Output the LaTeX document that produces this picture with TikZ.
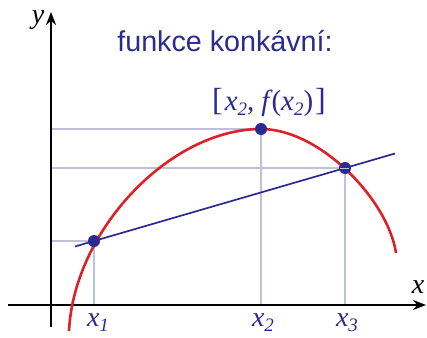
\documentclass[tikz,border=0pt]{standalone}
\usepackage{fontspec}
\newfontfamily\sansf{Liberation Sans}
\newfontfamily\seriff{Liberation Serif}
\usetikzlibrary{arrows.meta}
\definecolor{navy}{RGB}{42,42,145}
\definecolor{curvered}{RGB}{222,32,40}
\definecolor{gridc}{RGB}{190,192,222}
\newcommand{\sbx}[1]{\raisebox{-5pt}{\fontsize{19}{20}\selectfont #1}}
\newcommand{\up}[1]{{\upshape #1}}
\begin{document}
\begin{tikzpicture}[x=1pt,y=-1pt,
  axis/.style={line width=1.8pt,-{Stealth[length=13pt,width=10pt]}},
  gridl/.style={gridc,line width=1.1pt},
  dot/.style={circle,fill=navy,inner sep=0pt,minimum size=12pt},
  mlab/.style={font=\seriff\itshape\fontsize{28}{30}\selectfont,text=navy,inner sep=0pt},
  alab/.style={font=\seriff\itshape\fontsize{28}{30}\selectfont,text=black,inner sep=0pt}]
\useasboundingbox (0,0) rectangle (427,337);
\coordinate (O) at (51,305);
\coordinate (ybot) at (51,327);
\coordinate (ytop) at (51,12);
\coordinate (xl) at (8,305);
\coordinate (xr) at (426,305);
\coordinate (p1) at (94,241);
\coordinate (p2) at (261,129);
\coordinate (p3) at (345,168);
\coordinate (la) at (75,246.5);
\coordinate (lb) at (395,153.5);
\coordinate (cs) at (69,331);
\coordinate (ce) at (396,253);
% grid lines
\draw[gridl] (p1 -| O) -- (p1) -- (p1 |- O);
\draw[gridl] (p2 -| O) -- (p2) -- (p2 |- O);
\draw[gridl] (p3 -| O) -- (p3) -- (p3 |- O);
% axes
\draw[axis] (ybot) -- (ytop);
\draw[axis] (xl) -- (xr);
% curve
\draw[curvered,line width=2.6pt] (cs) .. controls (74,230) and (170,129) .. (p2)
  .. controls (320,129) and (388,200) .. (ce);
% secant
\draw[navy,line width=1.7pt] (la) -- (lb);
% dots
\node[dot] (d1) at (p1) {};
\node[dot] (d2) at (p2) {};
\node[dot] (d3) at (p3) {};
\draw[gridl,line width=0.8pt] ([xshift=-5pt]p3) -- ([xshift=4pt]p3);
% labels
\node[font=\sansf\fontsize{28.7}{32}\selectfont,text=navy,anchor=base,inner sep=0pt] (title) at (225,51) {funkce konkávní:};
\node[alab,anchor=base] (ylab) at (38,24) {y};
\node[alab,anchor=base] (xlab) at (418,293) {x};
\node[mlab,anchor=base] (x1) at (98,326) {x\sbx{1}};
\node[mlab,anchor=base] (x2) at (263,326) {x\sbx{2}};
\node[mlab,anchor=base] (x3) at (347,326) {x\sbx{3}};
\node[mlab,anchor=base,font=\seriff\itshape\fontsize{29}{30}\selectfont] (pt) at (269,110) {\up{\fontsize{32}{34}\selectfont[}\kern2pt x\sbx{2}\up{,}\kern7pt f\kern2pt\up{(}x\sbx{2}\up{)}\kern2pt\up{\fontsize{32}{34}\selectfont]}};
\end{tikzpicture}
\end{document}
